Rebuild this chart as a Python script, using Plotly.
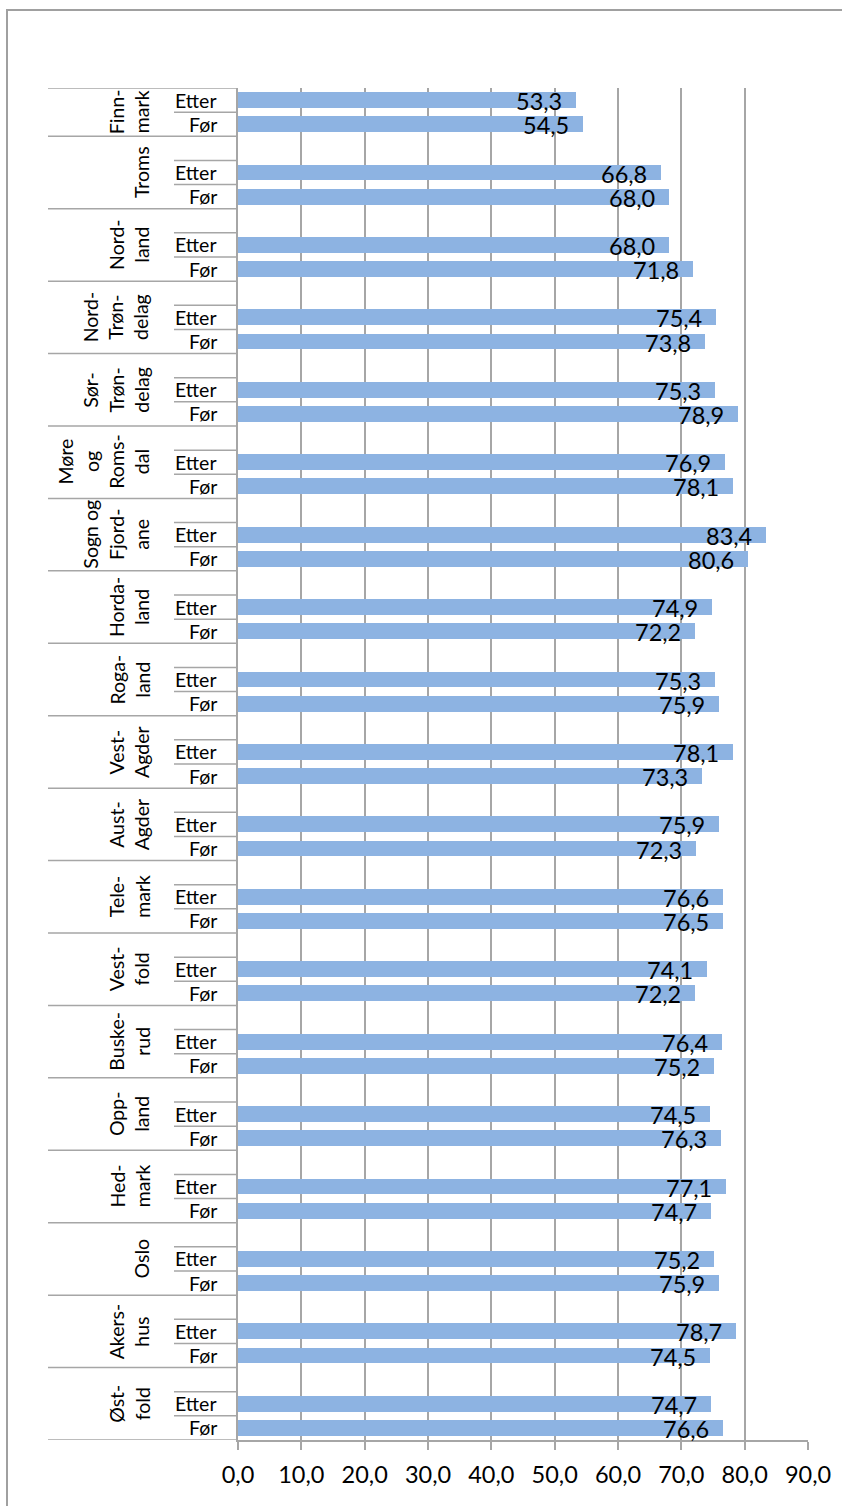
import plotly.graph_objects as go

# Counties listed bottom-up (Østfold at the bottom of the chart)
counties = [
    "Øst-<br>fold", "Akers-<br>hus", "Oslo", "Hed-<br>mark", "Opp-<br>land",
    "Buske-<br>rud", "Vest-<br>fold", "Tele-<br>mark", "Aust-<br>Agder",
    "Vest-<br>Agder", "Roga-<br>land", "Horda-<br>land", "Sogn og<br>Fjord-<br>ane",
    "Møre<br>og<br>Roms-<br>dal", "Sør-<br>Trøn-<br>delag", "Nord-<br>Trøn-<br>delag",
    "Nord-<br>land", "Troms", "Finn-<br>mark",
]
etter = [74.7, 78.7, 75.2, 77.1, 74.5, 76.4, 74.1, 76.6, 75.9, 78.1,
         75.3, 74.9, 83.4, 76.9, 75.3, 75.4, 68.0, 66.8, 53.3]
foer = [76.6, 74.5, 75.9, 74.7, 76.3, 75.2, 72.2, 76.5, 72.3, 73.3,
        75.9, 72.2, 80.6, 78.1, 78.9, 73.8, 71.8, 68.0, 54.5]
sub_labels = ["Før", "Etter"]
x_ticks = [0, 10, 20, 30, 40, 50, 60, 70, 80, 90]

W, H = 842, 1506
L, R, T, B = 238, 34, 88, 66
PW = W - L - R
PH = H - T - B

BAR = "#8DB3E2"
GRID = "#A6A6A6"
FONT = "Lato"


def px_x(px):
    return (px - L) / PW


def px_y(py):
    return (H - B - py) / PH


# three slots per county: Før, Etter, blank spacer
n = len(counties)
y_top = 3 * n - 1.5  # top spacer slot of the last group is cut off
y_foer = [3 * i for i in range(n)]
y_etter = [3 * i + 1 for i in range(n)]


def fmt(v):
    return f"{v:.1f}".replace(".", ",")


fig = go.Figure()
fig.add_trace(go.Bar(
    x=foer + etter, y=y_foer + y_etter, orientation="h",
    width=0.66, marker=dict(color=BAR, line=dict(width=0)),
    hoverinfo="skip", showlegend=False,
))

annotations = []
shapes = []

# value labels at the inside end of each bar
for vals, ys in ((foer, y_foer), (etter, y_etter)):
    for v, y in zip(vals, ys):
        annotations.append(dict(
            x=v, y=y, xref="x", yref="y", text=fmt(v), showarrow=False,
            xanchor="right", yanchor="middle", xshift=-12, yshift=-1,
            font=dict(family=FONT, size=23.5, color="black"),
        ))

# inner category labels and the group label
for i, name in enumerate(counties):
    for lab, y in zip(sub_labels, (y_foer[i], y_etter[i])):
        annotations.append(dict(
            x=px_x(219), y=y, xref="paper", yref="y", text=lab, showarrow=False,
            xanchor="right", yanchor="middle",
            font=dict(family=FONT, size=19.5, color="black"),
        ))
    lo = 3 * i - 0.5
    hi = min(3 * i + 2.5, y_top)
    annotations.append(dict(
        x=px_x(155), y=(lo + hi) / 2, xref="paper", yref="y", text=name,
        showarrow=False, textangle=-90, xanchor="right", yanchor="middle",
        align="center",
        font=dict(family=FONT, size=19.5, color="black"),
    ))

    # divider lines of the two-level category axis
    shapes.append(dict(type="line", xref="paper", yref="y",
                       x0=px_x(48), x1=0, y0=lo, y1=lo,
                       line=dict(color=GRID, width=1.5)))
    shapes.append(dict(type="line", xref="paper", yref="y",
                       x0=px_x(174), x1=0, y0=3 * i + 0.5, y1=3 * i + 0.5,
                       line=dict(color=GRID, width=1.5)))
    if 3 * i + 1.5 < y_top:
        shapes.append(dict(type="line", xref="paper", yref="y",
                           x0=px_x(174), x1=0, y0=3 * i + 1.5, y1=3 * i + 1.5,
                           line=dict(color=GRID, width=1.5)))

shapes.append(dict(type="line", xref="paper", yref="y",
                   x0=px_x(48), x1=0, y0=y_top, y1=y_top,
                   line=dict(color=GRID, width=1.5)))

# chart frame
shapes.append(dict(type="rect", xref="paper", yref="paper",
                   x0=px_x(7), x1=px_x(W + 20), y0=px_y(10), y1=px_y(H + 20),
                   line=dict(color="#A0A0A0", width=2), fillcolor="rgba(0,0,0,0)"))

fig.update_layout(
    width=W, height=H,
    margin=dict(l=L, r=R, t=T, b=B, pad=0),
    paper_bgcolor="white", plot_bgcolor="white",
    separators=", ",
    font=dict(family=FONT, color="black"),
    annotations=annotations, shapes=shapes,
    xaxis=dict(
        range=[0, 90], tickvals=x_ticks, tickformat=".1f",
        showgrid=True, gridcolor=GRID, gridwidth=1.5,
        showline=True, linecolor=GRID, linewidth=1.5,
        ticks="outside", ticklen=8, tickcolor=GRID, tickwidth=1.5,
        ticklabelstandoff=5,
        tickfont=dict(family=FONT, size=23.5, color="black"),
        zeroline=False, fixedrange=True,
    ),
    yaxis=dict(
        range=[-0.5, y_top], showticklabels=False, ticks="",
        showgrid=False, zeroline=False,
        showline=True, linecolor=GRID, linewidth=1.5,
    ),
    bargap=0,
)

fig.write_html("out.html")
